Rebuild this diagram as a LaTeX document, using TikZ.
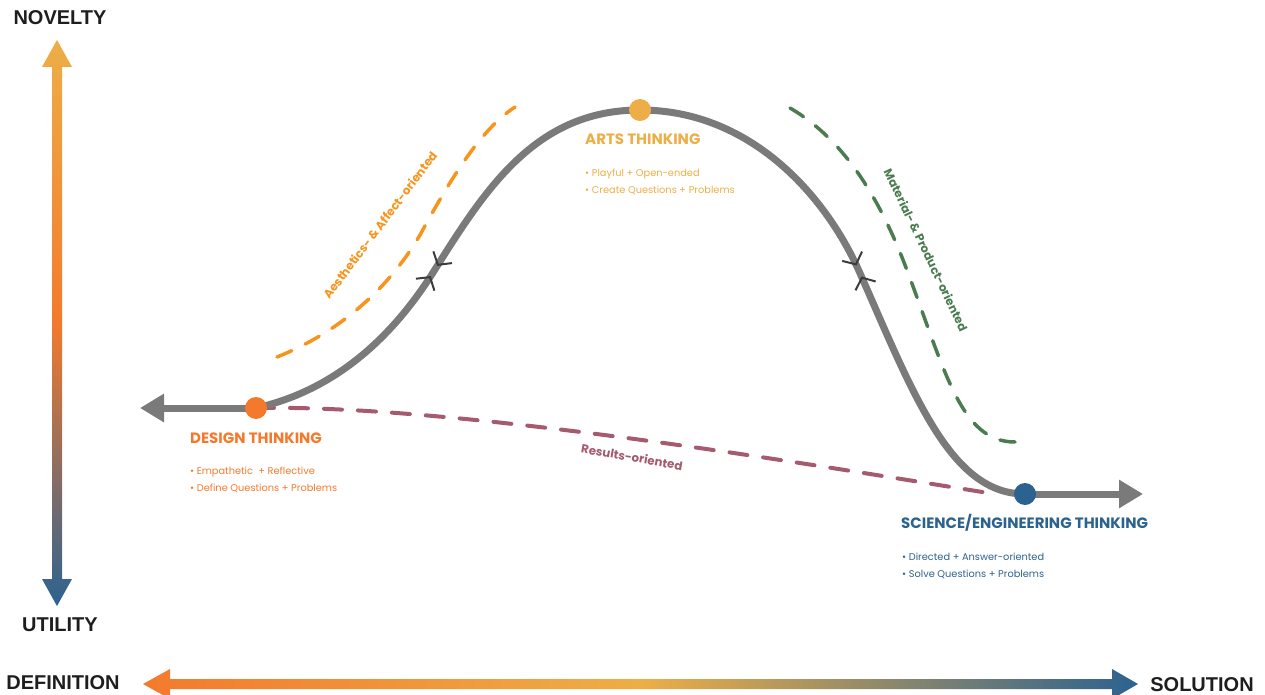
\documentclass[tikz,border=0pt]{standalone}
\usepackage{fontspec}
\setmainfont{Liberation Sans}
\newfontfamily\geofont{Poppins}
\usetikzlibrary{arrows.meta,positioning,decorations.markings}

\definecolor{designorange}{HTML}{F37A2D}
\definecolor{artsyellow}{HTML}{EDAE47}
\definecolor{scienceblue}{HTML}{2C6290}
\definecolor{curvegray}{HTML}{7A7A7A}
\definecolor{markgray}{HTML}{3C3C3C}
\definecolor{aestheticorange}{HTML}{F7941E}
\definecolor{materialgreen}{HTML}{4B7C4F}
\definecolor{resultsmauve}{HTML}{A65A6D}
\definecolor{labelblack}{HTML}{1E1E1E}

\tikzset{meet/.tip={Straight Barb[length=9pt,width=22pt,line width=2pt,color=markgray]}}

\begin{document}
\begin{tikzpicture}[x=1pt, y=-1pt]
    \tikzstyle{curve} = [line width=7pt, draw=curvegray]
    \tikzstyle{dot} = [circle, minimum size=22pt, inner sep=0pt]
    \tikzstyle{trail} = [line width=3.5pt, line cap=round, dash pattern=on 16pt off 15pt]
    \tikzstyle{trailtext} = [inner sep=0pt, font=\geofont\bfseries\fontsize{11.8}{13}\selectfont]
    \tikzstyle{heading} = [anchor=west, inner sep=0pt, font=\geofont\bfseries\fontsize{15}{17}\selectfont]
    \tikzstyle{bullets} = [anchor=north west, inner sep=0pt, align=left, font=\geofont\fontsize{9.8}{16.5}\selectfont]
    \tikzstyle{axislabel} = [inner sep=0pt, text=labelblack, font=\bfseries\fontsize{20}{22}\selectfont]

    \useasboundingbox (0,0) rectangle (1265,695);

    % Axes
    \shade[top color=artsyellow, bottom color=scienceblue, middle color=designorange]
        (52,67) -- (42,67) -- (57,40) -- (72,67) -- (62,67) -- (62,579) -- (72,579) -- (57,606) -- (42,579) -- (52,579) -- cycle;
    \shade[left color=designorange, right color=scienceblue, middle color=artsyellow]
        (170,679) -- (170,669) -- (143,684) -- (170,699) -- (170,689) -- (1112,689) -- (1112,699) -- (1138,684) -- (1112,669) -- (1112,679) -- cycle;
    \node [axislabel] (novelty) at (60,18) {NOVELTY};
    \node [axislabel] (utility) at (60,625) {UTILITY};
    \node [axislabel] (definition) at (63,683) {DEFINITION};
    \node [axislabel] (solution) at (1202,685) {SOLUTION};

    % Stages
    \coordinate (design) at (256,408);
    \coordinate (rise) at (434,271);
    \coordinate (arts) at (640,110);
    \coordinate (fall) at (859,271);
    \coordinate (science) at (1025,494);
    \coordinate (definitionend) at (140,408);
    \coordinate (solutionend) at (1143,494);

    % Orientations
    \coordinate (aestheticstart) at (277,357);
    \coordinate (aestheticend) at (515,107);
    \coordinate (materialstart) at (790,108);
    \coordinate (materialend) at (1015,442);
    \draw [trail, aestheticorange] (aestheticstart) .. controls (345,330) and (392,283) .. (420,235) .. controls (450,180) and (480,130) .. (aestheticend);
    \draw [trail, materialgreen] (materialstart) .. controls (845,140) and (880,200) .. (905,265) .. controls (945,370) and (960,442) .. (materialend);
    \draw [trail, resultsmauve, line width=4pt, dash pattern=on 18pt off 16pt] (design) .. controls (460,404) and (830,468) .. (995,494);
    \node [trailtext, text=aestheticorange, rotate=53] (aestheticlabel) at (380,225) {Aesthetics- \& Affect-oriented};
    \node [trailtext, text=materialgreen, rotate=-64.5] (materiallabel) at (926,250) {Material- \& Product-oriented};
    \node [trailtext, text=resultsmauve, rotate=-10] (resultslabel) at (632,457) {Results-oriented};

    % Path
    \draw [curve, -{Triangle[length=24pt,width=27pt]}] (design) -- (definitionend);
    \draw [curve, -{Triangle[length=24pt,width=27pt]}] (science) -- (solutionend);
    \draw [curve] (design) .. controls (345,388) and (400,325) .. (rise) .. controls (485,190) and (535,110) .. (arts)
        .. controls (750,110) and (825,195) .. (fall) .. controls (913,393) and (950,494) .. (science);
    \path [decorate, decoration={markings, mark=at position -6pt with {\arrow{meet}}}] (design) .. controls (345,388) and (400,325) .. (rise);
    \path [decorate, decoration={markings, mark=at position 6pt with {\arrowreversed{meet}}}] (rise) .. controls (485,190) and (535,110) .. (arts);
    \path [decorate, decoration={markings, mark=at position -6pt with {\arrow{meet}}}] (arts) .. controls (750,110) and (825,195) .. (fall);
    \path [decorate, decoration={markings, mark=at position 6pt with {\arrowreversed{meet}}}] (fall) .. controls (913,393) and (950,494) .. (science);

    % Design thinking
    \node [dot, fill=designorange] (designdot) at (design) {};
    \node [heading, text=designorange] (designtitle) at (190,438) {DESIGN THINKING};
    \node [bullets, text=designorange] (designlist) at (190,467) {\textbullet\ Empathetic~ + Reflective\\\textbullet\ Define Questions + Problems};

    % Arts thinking
    \node [dot, fill=artsyellow] (artsdot) at (arts) {};
    \node [heading, text=artsyellow] (artstitle) at (585,139) {ARTS THINKING};
    \node [bullets, text=artsyellow] (artslist) at (585,169) {\textbullet\ Playful + Open-ended\\\textbullet\ Create Questions + Problems};

    % Science/engineering thinking
    \node [dot, fill=scienceblue] (sciencedot) at (science) {};
    \node [heading, text=scienceblue] (sciencetitle) at (901,523) {SCIENCE/ENGINEERING THINKING};
    \node [bullets, text=scienceblue] (sciencelist) at (902,553) {\textbullet\ Directed + Answer-oriented\\\textbullet\ Solve Questions + Problems};
\end{tikzpicture}
\end{document}
